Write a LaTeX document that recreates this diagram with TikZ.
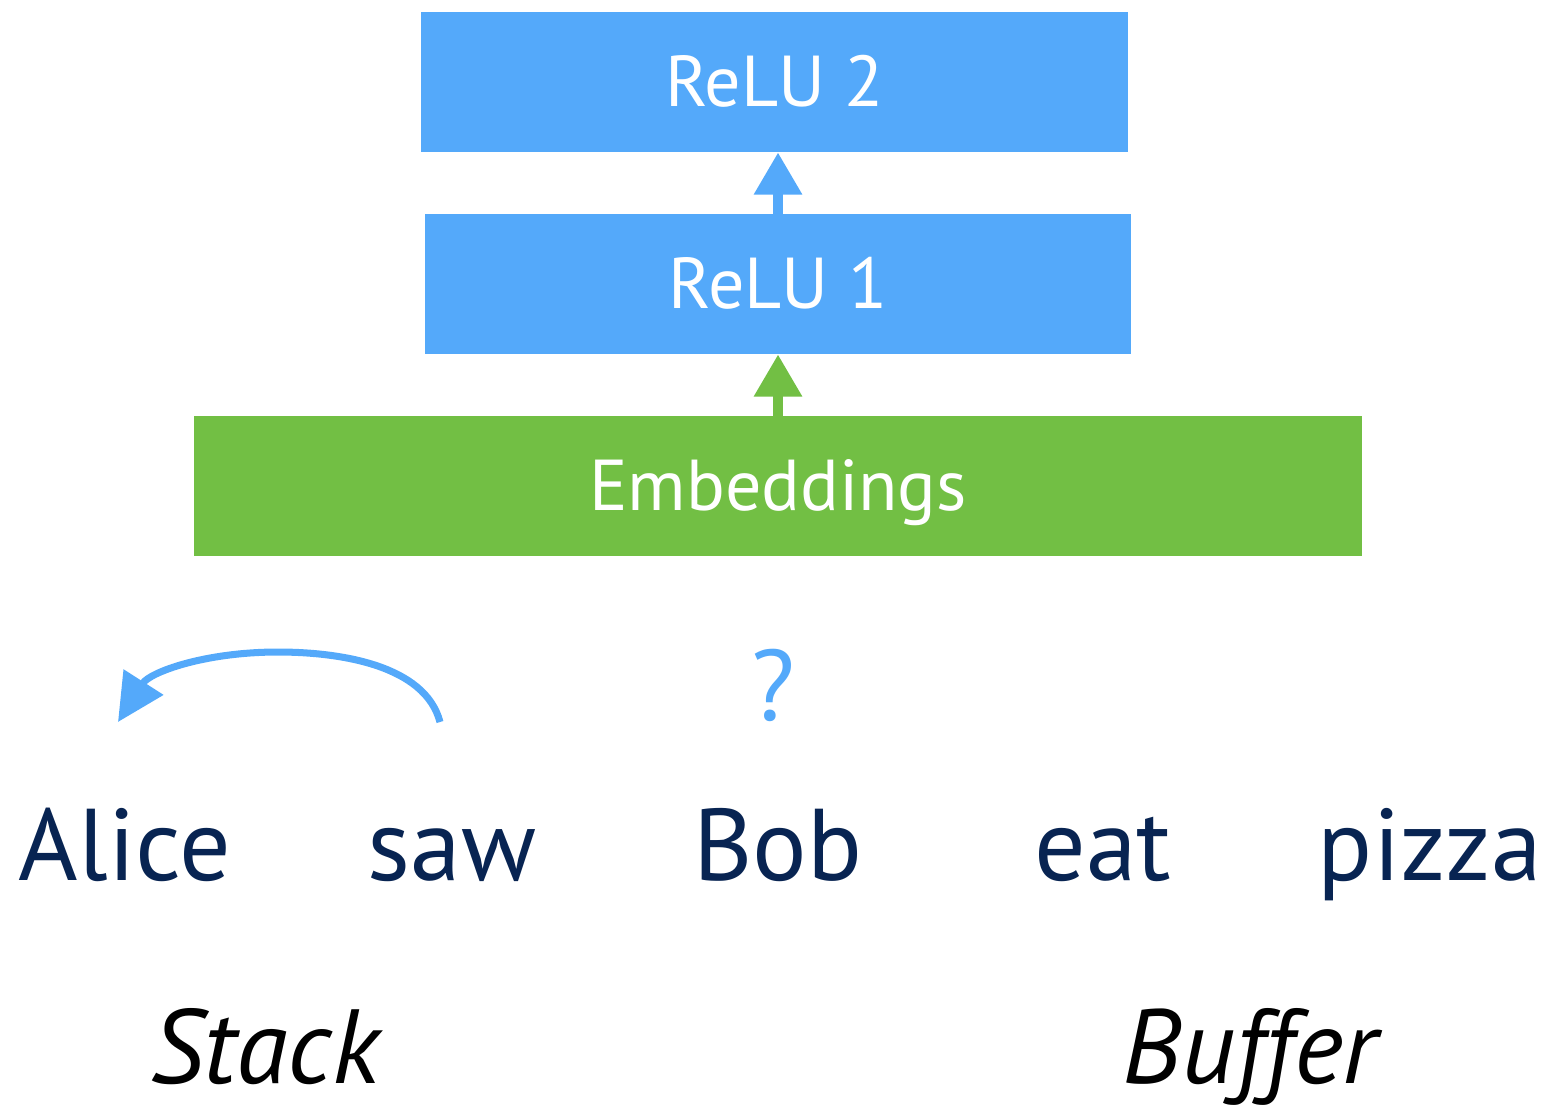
\documentclass[tikz,border=0pt]{standalone}
\usepackage{fontspec}
\setmainfont{PT Sans}
\usetikzlibrary{arrows.meta}
\definecolor{layerblue}{RGB}{84,169,250}
\definecolor{layergreen}{RGB}{114,191,68}
\definecolor{wordnavy}{RGB}{8,36,82}
\tikzset{
  layer/.style={inner sep=0pt, minimum height=140*0.02cm, text height=28pt, text depth=0pt,
    text=white, font=\fontsize{41}{48}\selectfont},
  word/.style={anchor=base, text=wordnavy, font=\fontsize{58}{66}\selectfont},
  label/.style={anchor=base, inner sep=0pt, text depth=0pt, text=black,
    font=\itshape\fontsize{60}{66}\selectfont},
  uparrow/.style={line width=5.7pt, -{Triangle[length=24pt,width=26pt]}}
}
\begin{document}
\begin{tikzpicture}[x=0.02cm,y=-0.02cm]
  \useasboundingbox (0,0) rectangle (1550,1107);
  % network layers
  \node[layer, fill=layerblue, minimum width=707*0.02cm] (relu2) at (774.5,82) {ReLU 2};
  \node[layer, fill=layerblue, minimum width=706*0.02cm] (relu1) at (778,284) {ReLU 1};
  \node[layer, fill=layergreen, minimum width=1168*0.02cm] (emb) at (778,486) {Embeddings};
  % connections between layers
  \draw[uparrow, layerblue] (relu1.north -| 778,0) -- (relu2.south -| 778,0);
  \draw[uparrow, layergreen] (emb.north -| 778,0) -- (relu1.south -| 778,0);
  % sentence
  \node[word] (alice) at (125,880) {Alice};
  \node[word] (saw) at (452,880) {saw};
  \node[word] (bob) at (778,880) {Bob};
  \node[word] (eat) at (1103,880) {eat};
  \node[word] (pizza) at (1430,880) {pizza};
  % pending decision
  \node[anchor=base, text=layerblue, font=\fontsize{57}{66}\selectfont] (q) at (773,720) {?};
  % arc from saw to Alice
  \coordinate (arcstart) at (440,722);
  \coordinate (arcend) at (118,722);
  \draw[layerblue, line width=4pt, -{Triangle[length=27pt,width=26pt]}]
    (arcstart) .. controls (425,665) and (340,652) .. (278,652)
    .. controls (205,652) and (150,672) .. (arcend);
  % stack and buffer labels
  \node[label] (stack) at (265,1083) {Stack};
  \node[label] (buffer) at (1250,1083) {Buffer};
\end{tikzpicture}
\end{document}
